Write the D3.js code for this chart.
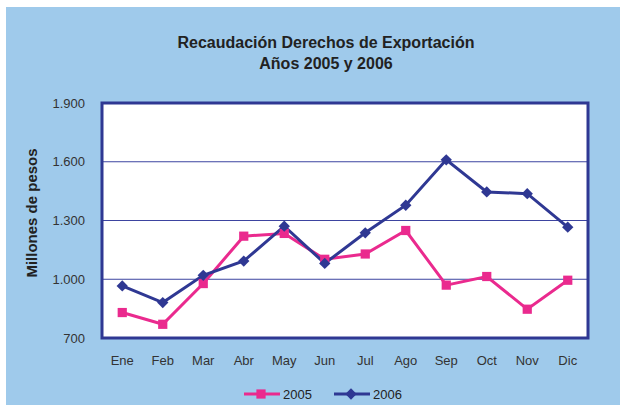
<!DOCTYPE html>
<html>
<head>
<meta charset="utf-8">
<script src="https://cdn.jsdelivr.net/npm/d3@7"></script>
<style>
  body { margin: 0; background: #fff; }
  text { font-family: "Liberation Sans", Arial, sans-serif; }
</style>
</head>
<body>
<div id="chart"></div>
<script>
// Recaudacion derechos de exportacion 2005 / 2006

var months = ["Ene", "Feb", "Mar", "Abr", "May", "Jun", "Jul", "Ago", "Sep", "Oct", "Nov", "Dic"];
var values2005 = [830, 770, 978, 1220, 1234, 1102, 1129, 1249, 970, 1014, 847, 995];
var values2006 = [966, 881, 1020, 1093, 1271, 1081, 1237, 1378, 1610, 1446, 1437, 1266];
var yTicks = [700, 1000, 1300, 1600, 1900];

var width = 620,
    height = 405;

var margin = { top: 103, right: 32, bottom: 67, left: 102 };
var w = width - margin.left - margin.right;
var h = height - margin.top - margin.bottom;

var pink = "#ea2a8e",
    navy = "#2f3893";

var svg = d3.select("#chart").append("svg")
    .attr("width", width)
    .attr("height", height);

// light blue background panel
svg.append("rect")
    .attr("x", 6).attr("y", 7)
    .attr("width", width - 6).attr("height", height - 7)
    .attr("fill", "#9fcaeb");

// title
svg.append("text")
    .attr("x", 326).attr("y", 48)
    .attr("text-anchor", "middle")
    .attr("font-size", "16px")
    .attr("font-weight", "bold")
    .attr("fill", "#222")
    .text("Recaudación Derechos de Exportación");

svg.append("text")
    .attr("x", 326).attr("y", 69)
    .attr("text-anchor", "middle")
    .attr("font-size", "16px")
    .attr("font-weight", "bold")
    .attr("fill", "#222")
    .text("Años 2005 y 2006");

var g = svg.append("g")
    .attr("transform", "translate(" + margin.left + "," + margin.top + ")");

var x = d3.scaleBand().domain(months).range([0, w]);
var y = d3.scaleLinear().domain([700, 1900]).range([h, 0]);

g.append("rect")
    .attr("width", w).attr("height", h)
    .attr("fill", "#fff");

// gridlines
g.selectAll(".grid")
    .data(yTicks.slice(1, -1))
    .enter().append("line")
    .attr("x1", 0).attr("x2", w)
    .attr("y1", function (d) { return y(d); })
    .attr("y2", function (d) { return y(d); })
    .attr("stroke", "#3d44a0")
    .attr("stroke-width", 1);

// y axis labels
var yAxis = d3.axisLeft(y).tickValues(yTicks).tickSize(0).tickPadding(17)
    .tickFormat(function (d) { return d3.format(",")(d).replace(",", "."); });

var ya = g.append("g").call(yAxis);
ya.select(".domain").remove();
ya.selectAll("text").attr("font-size", "13px").attr("fill", "#333")
    .attr("font-family", "Liberation Sans, Arial, sans-serif");

// x axis labels
var xAxis = d3.axisBottom(x).tickSize(0).tickPadding(18);
var xa = g.append("g").attr("transform", "translate(0," + h + ")").call(xAxis);
xa.select(".domain").remove();
xa.selectAll("text").attr("font-size", "13px").attr("fill", "#333")
    .attr("font-family", "Liberation Sans, Arial, sans-serif");

// y title
svg.append("text")
    .attr("transform", "translate(37,213) rotate(-90)")
    .attr("text-anchor", "middle")
    .attr("font-size", "15px")
    .attr("font-weight", "bold")
    .attr("fill", "#222")
    .text("Millones de pesos");

var line = d3.line()
    .x(function (d, i) { return x(months[i]) + x.bandwidth() / 2; })
    .y(function (d) { return y(d); });

g.append("path")
    .datum(values2005)
    .attr("d", line)
    .attr("fill", "none")
    .attr("stroke", pink)
    .attr("stroke-width", 3);

g.append("path")
    .datum(values2006)
    .attr("d", line)
    .attr("fill", "none")
    .attr("stroke", navy)
    .attr("stroke-width", 3);

var square = d3.symbol().type(d3.symbolSquare).size(85);
var diamond = d3.symbol().type(d3.symbolSquare).size(64);   // rotated 45 below

g.selectAll(".m2005")
    .data(values2005)
    .enter().append("path")
    .attr("d", square)
    .attr("transform", function (d, i) {
        return "translate(" + (x(months[i]) + x.bandwidth() / 2) + "," + y(d) + ")";
    })
    .attr("fill", pink);

g.selectAll(".m2006")
    .data(values2006)
    .enter().append("path")
    .attr("d", diamond)
    .attr("transform", function (d, i) {
        return "translate(" + (x(months[i]) + x.bandwidth() / 2) + "," + y(d) + ") rotate(45)";
    })
    .attr("fill", navy);

// plot border
g.append("rect")
    .attr("width", w).attr("height", h)
    .attr("fill", "none")
    .attr("stroke", "#2f3893")
    .attr("stroke-width", 3);

// legend
var legend = [
    { label: "2005", color: pink, sym: square, rot: 0, x: 244 },
    { label: "2006", color: navy, sym: diamond, rot: 45, x: 334 }
];

var lg = svg.selectAll(".legend")
    .data(legend)
    .enter().append("g")
    .attr("transform", function (d) { return "translate(" + d.x + ",394)"; });

lg.append("line")
    .attr("x1", 0).attr("x2", 36)
    .attr("stroke", function (d) { return d.color; })
    .attr("stroke-width", 3);

lg.append("path")
    .attr("d", function (d) { return d.sym(); })
    .attr("transform", function (d) { return "translate(17,0) rotate(" + d.rot + ")"; })
    .attr("fill", function (d) { return d.color; });

lg.append("text")
    .attr("x", 39).attr("y", 5)
    .attr("font-size", "13px")
    .attr("fill", "#222")
    .text(function (d) { return d.label; });
</script>
</body>
</html>
